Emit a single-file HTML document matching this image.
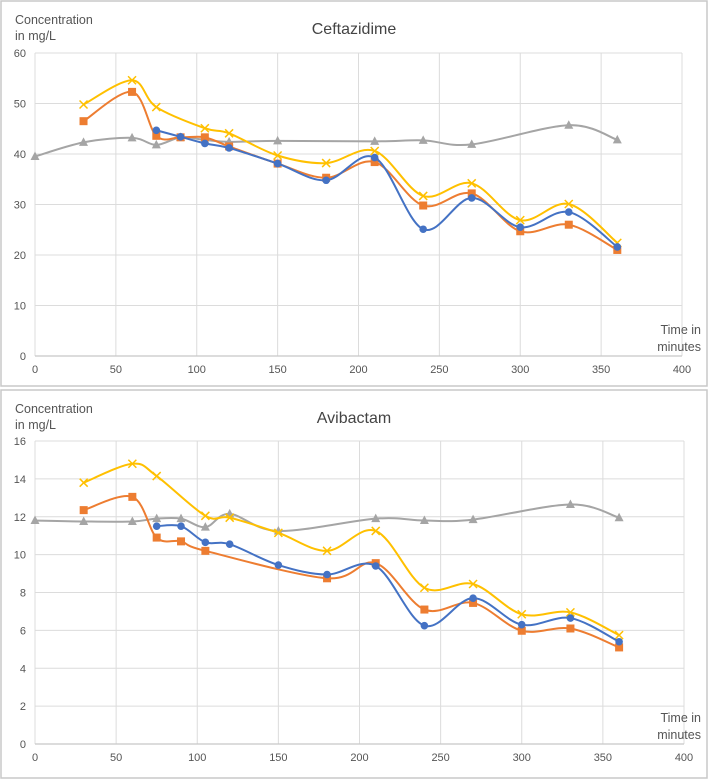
<!DOCTYPE html>
<html><head><meta charset="utf-8">
<style>
html,body{margin:0;padding:0;background:#fff;}
svg{display:block;font-family:"Liberation Sans",sans-serif;}
</style></head>
<body>
<svg id="chart" width="709" height="779" viewBox="0 0 709 779" xmlns="http://www.w3.org/2000/svg"></svg>
<script>
// ---- Data ----
const cefTimes = [0,30,60,75,90,105,120,150,180,210,240,270,300,330,360];
const cefGrey   = [39.5,42.3,43.2,41.8,43.3,42.8,42.4,42.6,null,42.5,42.7,41.9,null,45.7,42.8];
const cefBlue   = [null,null,null,44.7,43.4,42.1,41.2,38.1,34.8,39.3,25.1,31.3,25.5,28.5,21.6];
const cefOrange = [null,46.5,52.3,43.6,43.3,43.3,41.5,38.1,35.3,38.4,29.8,32.2,24.7,26.0,21.0];
const cefYellow = [null,49.8,54.6,49.3,null,45.1,44.1,39.7,38.2,40.6,31.7,34.2,26.9,30.1,22.4];
const aviTimes = [0,30,60,75,90,105,120,150,180,210,240,270,300,330,360];
const aviGrey   = [11.8,11.75,11.75,11.9,11.9,11.45,12.15,11.25,null,11.9,11.8,11.85,null,12.65,11.95];
const aviBlue   = [null,null,null,11.5,11.5,10.65,10.55,9.45,8.95,9.4,6.25,7.7,6.3,6.65,5.4];
const aviOrange = [null,12.35,13.05,10.9,10.7,10.2,null,null,8.75,9.55,7.1,7.45,5.98,6.1,5.1];
const aviYellow = [null,13.8,14.8,14.15,null,12.05,11.95,11.15,10.2,11.25,8.25,8.45,6.85,6.95,5.75];
const xTicks = [0,50,100,150,200,250,300,350,400];
const cefYTicks = [0,10,20,30,40,50,60];
const aviYTicks = [0,2,4,6,8,10,12,14,16];

const NS = "http://www.w3.org/2000/svg";
const svg = document.getElementById('chart');
function mk(tag, attrs, parent){
  const e = document.createElementNS(NS, tag);
  for (const k in attrs) e.setAttribute(k, attrs[k]);
  (parent||svg).appendChild(e);
  return e;
}
function smoothPath(pts){
  if (pts.length<2) return '';
  let d = `M${pts[0][0]},${pts[0][1]}`;
  for (let i=0;i<pts.length-1;i++){
    const p0=pts[i-1]||pts[i], p1=pts[i], p2=pts[i+1], p3=pts[i+2]||p2;
    const c1=[p1[0]+(p2[0]-p0[0])/6, p1[1]+(p2[1]-p0[1])/6];
    const c2=[p2[0]-(p3[0]-p1[0])/6, p2[1]-(p3[1]-p1[1])/6];
    d += ` C${c1[0]},${c1[1]} ${c2[0]},${c2[1]} ${p2[0]},${p2[1]}`;
  }
  return d;
}

function drawChart(cfg){
  const g = mk('g', {});
  
  
  const frame = mk('rect', {x:cfg.boxX, y:cfg.boxY, width:cfg.boxW, height:cfg.boxH, fill:'#fff', stroke:'#c8c8c8', 'stroke-width':1.5}, g);
  
  
  const xs = t => cfg.x0 + (t/400)*(cfg.x1-cfg.x0);
  const ys = v => cfg.y0 - (v/cfg.ymax)*(cfg.y0-cfg.y1);
  // gridlines
  cfg.yTicks.forEach(v=>{
    const l = mk('line',{x1:xs(0),x2:xs(400),y1:ys(v),y2:ys(v),stroke:'#dcdcdc','stroke-width':1},g);
    
    
    const t = mk('text',{x:cfg.x0-9,y:ys(v)+4,'text-anchor':'end','font-size':11,fill:'#555'},g);
    t.textContent = v;
    
    
  });
  xTicks.forEach(v=>{
    const l = mk('line',{x1:xs(v),x2:xs(v),y1:ys(0),y2:ys(cfg.ymax),stroke:'#dcdcdc','stroke-width':1},g);
    
    
    const t = mk('text',{x:xs(v),y:ys(0)+17,'text-anchor':'middle','font-size':11,fill:'#555'},g);
    t.textContent = v;
    
    
  });
  const ax = mk('line',{x1:xs(0),x2:xs(400),y1:ys(0),y2:ys(0),stroke:'#c8c8c8','stroke-width':1.2},g);
  
  
  // texts
  const yl1 = mk('text',{x:15,y:cfg.boxY+23,'font-size':12.5,fill:'#555'},g);
  yl1.textContent='Concentration';
  
  
  const yl2 = mk('text',{x:15,y:cfg.boxY+39,'font-size':12.5,fill:'#555'},g);
  yl2.textContent='in mg/L';
  
  
  const tt = mk('text',{x:354,y:cfg.boxY+33,'text-anchor':'middle','font-size':16,fill:'#444'},g);
  tt.textContent=cfg.title;
  
  
  const xl1 = mk('text',{x:701,y:ys(0)-22,'text-anchor':'end','font-size':12.5,fill:'#555'},g);
  xl1.textContent='Time in';
  
  
  const xl2 = mk('text',{x:701,y:ys(0)-5,'text-anchor':'end','font-size':12.5,fill:'#555'},g);
  xl2.textContent='minutes';
  
  
  // series
  cfg.series.forEach(s=>{
    const pts=[];
    cfg.times.forEach((t,i)=>{ if(s.vals[i]!==null) pts.push([xs(t),ys(s.vals[i])]); });
    const p = mk('path',{d:smoothPath(pts),fill:'none',stroke:s.color,'stroke-width':2},g);
    
    
    pts.forEach(([x,y])=>{
      let m;
      if (s.marker==='circle') m = mk('circle',{cx:x,cy:y,r:3.8,fill:s.color},g);
      else if (s.marker==='square') m = mk('rect',{x:x-4,y:y-4,width:8,height:8,fill:s.color},g);
      else if (s.marker==='triangle') m = mk('path',{d:`M${x},${y-5} L${x+4.5},${y+3.5} L${x-4.5},${y+3.5} Z`,fill:s.color},g);
      else m = mk('path',{d:`M${x-4},${y-4} L${x+4},${y+4} M${x+4},${y-4} L${x-4},${y+4}`,stroke:s.color,'stroke-width':1.5,fill:'none'},g);
      
      
    });
  });
}

drawChart({name:'ceftazidime-chart',title:'Ceftazidime',boxX:1,boxY:1,boxW:706,boxH:385,
  x0:35,x1:682,y0:356,y1:53,ymax:60,yTicks:cefYTicks,times:cefTimes,
  series:[
    {name:'grey-series',vals:cefGrey,color:'#a5a5a5',marker:'triangle'},
    {name:'yellow-series',vals:cefYellow,color:'#ffc000',marker:'x'},
    {name:'orange-series',vals:cefOrange,color:'#ed7d31',marker:'square'},
    {name:'blue-series',vals:cefBlue,color:'#4472c4',marker:'circle'}
  ]});
drawChart({name:'avibactam-chart',title:'Avibactam',boxX:1,boxY:390,boxW:706,boxH:388,
  x0:35,x1:684,y0:744,y1:441,ymax:16,yTicks:aviYTicks,times:aviTimes,
  series:[
    {name:'grey-series',vals:aviGrey,color:'#a5a5a5',marker:'triangle'},
    {name:'yellow-series',vals:aviYellow,color:'#ffc000',marker:'x'},
    {name:'orange-series',vals:aviOrange,color:'#ed7d31',marker:'square'},
    {name:'blue-series',vals:aviBlue,color:'#4472c4',marker:'circle'}
  ]});
</script>
</body></html>
